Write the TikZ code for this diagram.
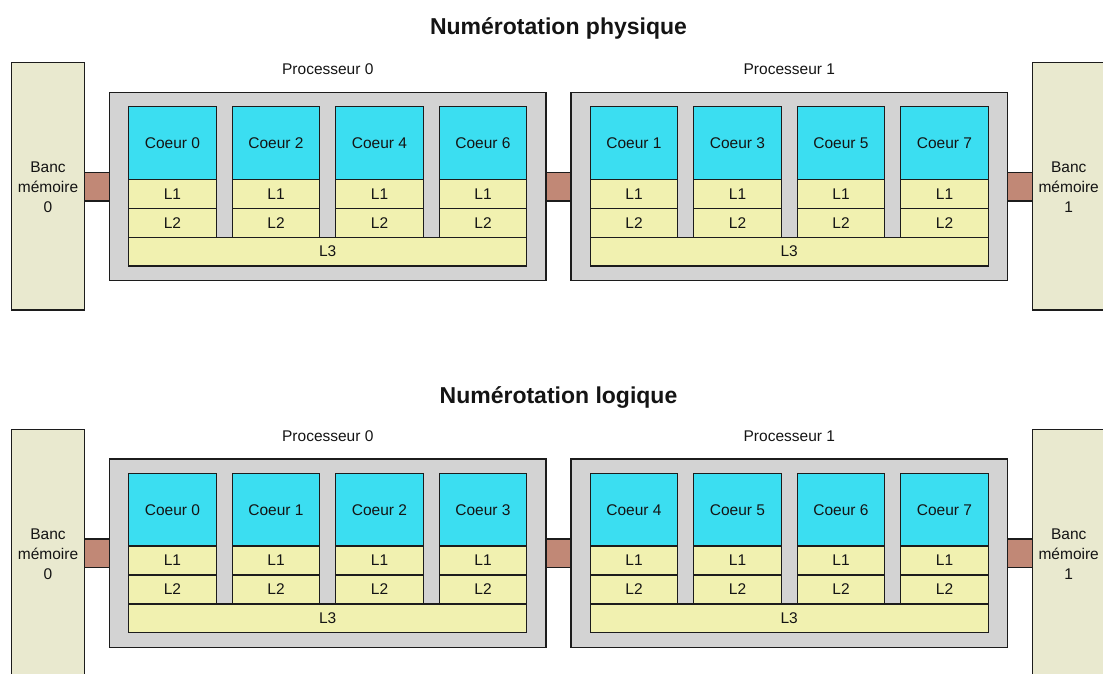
\documentclass[tikz,border=0pt]{standalone}
\usepackage{fontspec}
\setmainfont{Liberation Sans}

\definecolor{bankfill}{RGB}{233,233,207}
\definecolor{procfill}{RGB}{211,211,211}
\definecolor{corefill}{RGB}{59,222,241}
\definecolor{cachefill}{RGB}{241,241,176}
\definecolor{linkfill}{RGB}{193,136,118}
\definecolor{edge}{RGB}{28,28,28}
\definecolor{ink}{RGB}{20,20,20}

\tikzset{
  cell/.style={draw=edge, line width=1.3pt, inner sep=0pt, outer sep=0pt,
    anchor=north west, align=center, text=ink,
    font=\fontsize{15.5}{20}\selectfont},
  bank/.style={cell, fill=bankfill, minimum width=72.8pt, minimum height=247.3pt},
  proc/.style={cell, fill=procfill, minimum width=436.5pt, minimum height=188.4pt},
  core/.style={cell, fill=corefill, minimum width=87.6pt, minimum height=72.6pt},
  cache/.style={cell, fill=cachefill, minimum width=87.6pt, minimum height=29pt},
  lthree/.style={cache, minimum width=398pt, minimum height=28.7pt},
  link/.style={draw=edge, line width=1.3pt, fill=linkfill},
  heading/.style={inner sep=0pt, anchor=base, text=ink,
    font=\fontsize{23}{27}\selectfont\bfseries},
  plabel/.style={inner sep=0pt, text=ink, font=\fontsize{15.5}{19}\selectfont},
  banktext/.style={inner sep=0pt, align=center, text=ink,
    font=\fontsize{15.5}{20}\selectfont}
}

% One complete dual-processor figure.
% #1 name prefix, #2 vertical offset, #3 heading, #4 title baseline,
% #5 core number as a function of processor \p and core slot \k
\newcommand\drawnumbering[5]{%
  \node[heading] (#1-title) at (558.5,#4) {#3};
  \node[bank] (#1-bank0) at (11.5,#2+62.7) {};
  \node[bank] (#1-bank1) at (1032.3,#2+62.7) {};
  \node[banktext] (#1-bank0text) at (48,#2+187.6) {Banc\\mémoire\\0};
  \node[banktext] (#1-bank1text) at (1068.7,#2+187.6) {Banc\\mémoire\\1};
  \foreach \p/\px in {0/109.5,1/571}{
    \node[proc] (#1-proc\p) at (\px,#2+92.3) {};
    \node[plabel] (#1-plabel\p) at (\px+218.3,#2+69.4) {Processeur \p};
    \node[lthree] (#1-l3-\p) at (\px+19.2,#2+237.3) {L3};
    \foreach \k in {0,...,3}{
      \pgfmathtruncatemacro\n{#5}
      \node[core]  (#1-core\p\k) at (\px+19.2+103.5*\k,#2+106.7) {Coeur \n};
      \node[cache] (#1-la\p\k)   at (\px+19.2+103.5*\k,#2+179.3) {L1};
      \node[cache] (#1-lb\p\k)   at (\px+19.2+103.5*\k,#2+208.3) {L2};
    }
  }
  % memory and interconnect links
  \coordinate (#1-linktop) at (0,#2+172.3);
  \coordinate (#1-linkbot) at (0,#2+201);
  \draw[link] (#1-bank0.east |- #1-linktop) rectangle (#1-proc0.west |- #1-linkbot);
  \draw[link] (#1-proc0.east |- #1-linktop) rectangle (#1-proc1.west |- #1-linkbot);
  \draw[link] (#1-proc1.east |- #1-linktop) rectangle (#1-bank1.west |- #1-linkbot);
}

\begin{document}
\begin{tikzpicture}[x=1pt,y=-1pt]
  \useasboundingbox (0,0) rectangle (1103,673);
  \drawnumbering{phys}{0}{Numérotation physique}{34}{2*\k+\p}
  \drawnumbering{logi}{366.7}{Numérotation logique}{403.5}{4*\p+\k}
\end{tikzpicture}
\end{document}
